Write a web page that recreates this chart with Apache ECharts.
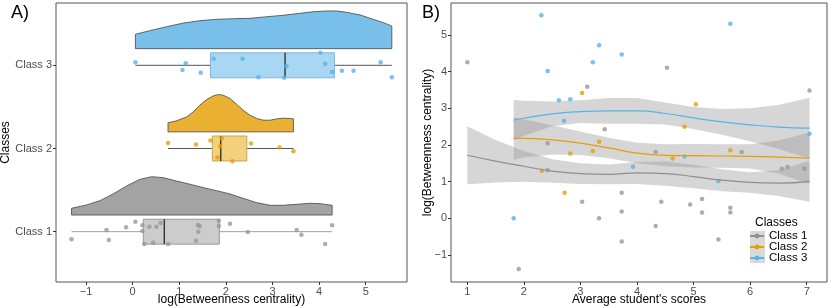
<!DOCTYPE html>
<html><head><meta charset="utf-8">
<script src="https://cdn.jsdelivr.net/npm/echarts@6/dist/echarts.min.js"></script>
<style>html,body{margin:0;padding:0;background:#fff}#main{width:830px;height:308px}</style>
</head><body><div id="main"></div>
<script>
// ---------- DATA ----------
const classNames = ['Class 1', 'Class 2', 'Class 3'];
const leftXTicks = [-1, 0, 1, 2, 3, 4, 5];
const rightXTicks = [1, 2, 3, 4, 5, 6, 7];
const rightYTicks = [-1, 0, 1, 2, 3, 4, 5];

// Panel A: log(betweenness) values with vertical jitter
const c1Vals = [-1.31,-0.56,-0.51,-0.14,0.06,0.21,0.21,0.25,0.36,0.44,0.51,0.60,0.76,1.36,1.40,1.44,1.41,1.85,1.85,2.09,2.47,3.52,3.62,4.13,4.28];
const c1Jit  = [-0.092,0.02,-0.10,0.052,0.12,0.077,0.008,-0.148,0.06,-0.132,0.06,0.105,-0.148,-0.108,0.08,0.065,0,0.132,0.068,0.096,-0.004,0.02,-0.036,-0.148,0.077];
const c2Vals = [0.76,1.36,1.67,1.91,1.88,2.54,3.15,3.45,1.82,2.14];
const c2Jit  = [0.067,0.048,0.096,0.124,0.028,0.06,0.012,-0.032,-0.108,-0.153];
const c3Vals = [0.06,1.14,1.07,1.46,1.74,2.36,2.70,3.25,3.30,4.03,4.13,4.28,4.49,4.74,5.32,5.56];
const c3Jit  = [0.036,0.024,-0.056,-0.089,0.08,0.08,-0.145,-0.15,-0.01,0.15,0.02,-0.08,-0.065,-0.065,0.036,-0.145];

// Box statistics [min, Q1, median, Q3, max]
const box1 = [-1.31, 0.23, 0.68, 1.86, 4.28];
const box2 = [0.76, 1.71, 1.89, 2.45, 3.45];
const box3 = [0.06, 1.67, 3.27, 4.33, 5.56];

// Half-violin densities (x, scaled density height)
const dens1X = [-1.31,-0.99,-0.70,-0.42,-0.13,0.16,0.41,0.66,0.94,1.23,1.52,1.80,2.09,2.37,2.66,2.95,3.23,3.52,3.80,4.02,4.28];
const dens1H = [0.081,0.121,0.173,0.253,0.349,0.43,0.461,0.449,0.409,0.37,0.329,0.293,0.253,0.201,0.149,0.117,0.117,0.129,0.141,0.137,0.117];
const dens2X = [0.76,0.94,1.16,1.30,1.44,1.59,1.73,1.84,1.94,2.09,2.23,2.37,2.52,2.66,2.80,2.95,3.09,3.23,3.38,3.45];
const dens2H = [0.108,0.132,0.18,0.24,0.32,0.389,0.432,0.449,0.441,0.401,0.332,0.26,0.20,0.161,0.14,0.14,0.156,0.164,0.161,0.156];
const dens3X = [0.06,0.37,0.73,1.09,1.44,1.80,2.16,2.52,2.88,3.23,3.59,3.88,4.16,4.38,4.59,4.88,5.16,5.38,5.56];
const dens3H = [0.173,0.216,0.264,0.308,0.336,0.353,0.36,0.365,0.384,0.401,0.425,0.444,0.453,0.453,0.437,0.405,0.353,0.312,0.272];

// Panel B: [average score, log(betweenness)]
const pts1 = [[1.0,4.26],[3.12,3.59],[4.53,4.11],[7.05,3.49],[3.43,2.43],[2.42,2.05],[4.33,1.81],[5.85,1.81],[2.42,1.31],[6.56,1.35],[6.66,1.40],[6.96,1.35],[3.73,0.70],[3.03,0.45],[4.43,0.45],[4.94,0.38],[5.15,0.53],[3.73,0.19],[5.15,0.16],[5.65,0.29],[5.65,0.16],[3.33,0.0],[4.33,-0.21],[5.44,-0.58],[3.73,-0.63],[1.91,-1.38]];
const pts2 = [[3.03,3.42],[5.04,3.11],[4.84,2.50],[2.82,1.77],[3.22,1.84],[3.33,2.09],[4.63,1.63],[5.65,1.86],[2.32,1.30],[2.72,0.70]];
const pts3 = [[2.31,5.54],[2.42,4.02],[2.62,3.22],[2.82,3.25],[3.22,4.26],[3.33,4.72],[3.73,4.47],[5.65,5.31],[2.71,2.66],[4.84,1.69],[7.05,2.31],[3.93,1.41],[5.44,1.02],[1.82,0.0]];

// Loess fits: x grid, fit, half-width of confidence band
const fit1X = [1.0,1.5,2.0,2.5,3.0,3.5,4.0,4.5,5.0,5.5,6.0,6.5,7.05];
const fit1Y = [1.72,1.56,1.42,1.29,1.22,1.20,1.24,1.22,1.14,1.04,0.98,0.96,1.01];
const fit1S = [0.79,0.58,0.42,0.32,0.28,0.27,0.3,0.33,0.32,0.3,0.28,0.35,0.56];
const fit2X = [1.82,2.0,2.5,3.0,3.5,4.0,4.5,5.0,5.5,6.0,6.5,7.05];
const fit2Y = [2.18,2.18,2.14,2.05,1.92,1.78,1.72,1.71,1.70,1.69,1.67,1.64];
const fit2S = [0.58,0.52,0.4,0.32,0.28,0.28,0.3,0.32,0.32,0.33,0.45,0.7];
const fit3X = [1.82,2.0,2.5,3.0,3.5,4.0,4.5,5.0,5.5,6.0,6.5,7.05];
const fit3Y = [2.68,2.73,2.85,2.91,2.93,2.93,2.86,2.74,2.63,2.55,2.49,2.46];
const fit3S = [0.55,0.48,0.34,0.31,0.35,0.35,0.3,0.3,0.35,0.45,0.6,0.83];

// ---------- STYLE ----------
const FONT = '"Liberation Sans", Arial, Helvetica, sans-serif';
const ptColors = ['#999999', '#E69F00', '#56B4E9'];
const densFill = ['#a3a3a3', '#e9b031', '#78c0ea'];
const boxFill = ['#cccccc', '#f2d07e', '#a8d7f3'];
const boxStroke = ['#9a9a9a', '#c9a545', '#7eb6de'];
const whiskColor = ['#a0a0a0', '#555555', '#555555'];
const lineColors = ['#8f8f8f', '#E69F00', '#56B4E9'];
const densBase = 0.2, boxHalf = 0.15;

const boxes = [box1, box2, box3];
const densX = [dens1X, dens2X, dens3X];
const densH = [dens1H, dens2H, dens3H];
const vals = [c1Vals, c2Vals, c3Vals];
const jits = [c1Jit, c2Jit, c3Jit];
const pts = [pts1, pts2, pts3];
const fitX = [fit1X, fit2X, fit3X];
const fitY = [fit1Y, fit2Y, fit3Y];
const fitS = [fit1S, fit2S, fit3S];

const minus = v => String(v).replace('-', '\u2212');
const tickLbl = {color: '#4d4d4d', fontSize: 11, fontFamily: FONT, margin: 4};
const tick = {show: true, length: 3, lineStyle: {color: '#333', width: 1}};

function axis(extra) {
  return Object.assign({
    type: 'value', axisLine: {show: false, onZero: false}, splitLine: {show: false},
    nameLocation: 'middle', nameMoveOverlap: false,
    nameTextStyle: {color: '#000', fontSize: 12, fontFamily: FONT}
  }, extra);
}

const series = [];
// Panel A densities
series.push({
  type: 'custom', xAxisIndex: 0, yAxisIndex: 0, clip: false,
  data: [[2, 1], [2, 2], [2, 3]],
  renderItem: function (params, api) {
    const i = params.dataIndex, pos = i + 1;
    const xs = densX[i], hs = densH[i];
    const points = xs.map((x, k) => api.coord([x, pos + densBase + hs[k]]));
    points.push(api.coord([xs[xs.length - 1], pos + densBase]));
    points.push(api.coord([xs[0], pos + densBase]));
    return {type: 'polygon', shape: {points: points},
      style: {fill: densFill[i], stroke: '#555555', lineWidth: 0.9}};
  }
});
// Panel A boxes
series.push({
  type: 'custom', xAxisIndex: 0, yAxisIndex: 0, clip: false,
  data: [[2, 1], [2, 2], [2, 3]],
  renderItem: function (params, api) {
    const i = params.dataIndex, pos = i + 1, s = boxes[i];
    const c = s.map(v => api.coord([v, pos]));
    const top = api.coord([s[1], pos + boxHalf])[1];
    const bot = api.coord([s[1], pos - boxHalf])[1];
    return {type: 'group', children: [
      {type: 'line', shape: {x1: c[0][0], y1: c[0][1], x2: c[1][0], y2: c[1][1]}, style: {stroke: whiskColor[i], lineWidth: 1}},
      {type: 'line', shape: {x1: c[3][0], y1: c[3][1], x2: c[4][0], y2: c[4][1]}, style: {stroke: whiskColor[i], lineWidth: 1}},
      {type: 'rect', shape: {x: c[1][0], y: top, width: c[3][0] - c[1][0], height: bot - top}, style: {fill: boxFill[i], stroke: boxStroke[i], lineWidth: 1}},
      {type: 'line', shape: {x1: c[2][0], y1: top, x2: c[2][0], y2: bot}, style: {stroke: '#333333', lineWidth: 1.4}}
    ]};
  }
});
// Panel A points
for (let i = 0; i < 3; i++) {
  series.push({
    type: 'scatter', xAxisIndex: 0, yAxisIndex: 0, symbolSize: 4.5,
    itemStyle: {color: ptColors[i]},
    data: vals[i].map((v, k) => [v, i + 1 + jits[i][k]])
  });
}
// Panel B points
for (let i = 0; i < 3; i++) {
  series.push({
    type: 'scatter', xAxisIndex: 1, yAxisIndex: 1, symbolSize: 4.5,
    itemStyle: {color: ptColors[i]}, data: pts[i]
  });
}
// Panel B confidence bands
series.push({
  type: 'custom', xAxisIndex: 1, yAxisIndex: 1,
  data: [[4, 1], [4, 2], [4, 3]],
  renderItem: function (params, api) {
    const i = params.dataIndex;
    const xs = fitX[i], ys = fitY[i], ss = fitS[i];
    const up = xs.map((x, k) => api.coord([x, ys[k] + ss[k]]));
    const lo = xs.map((x, k) => api.coord([x, ys[k] - ss[k]])).reverse();
    return {type: 'polygon', shape: {points: up.concat(lo)},
      style: {fill: 'rgba(153,153,153,0.4)'}};
  }
});
// Panel B loess lines
for (let i = 0; i < 3; i++) {
  series.push({
    name: classNames[i], type: 'line', xAxisIndex: 1, yAxisIndex: 1, z: 4,
    smooth: true, showSymbol: false, symbol: 'circle', symbolSize: 4,
    itemStyle: {color: lineColors[i]}, lineStyle: {color: lineColors[i], width: 1.2},
    data: fitX[i].map((x, k) => [x, fitY[i][k]])
  });
}

const legends = classNames.map((name, i) => ({
  data: [name], orient: 'vertical', left: 749, top: 230 + 11 * i, padding: 0,
  itemWidth: 14, itemHeight: 6, selectedMode: false,
  textStyle: {color: '#000', fontSize: 11.5, fontFamily: FONT}
}));

const option = {
  animation: false,
  backgroundColor: '#fff',
  textStyle: {fontFamily: FONT},
  grid: [
    {left: 56, right: 423, top: 3, bottom: 26, outerBoundsMode: 'none', containLabel: false, show: true, borderColor: '#555', borderWidth: 1, backgroundColor: 'transparent'},
    {left: 451, right: 3, top: 3, bottom: 26, outerBoundsMode: 'none', containLabel: false, show: true, borderColor: '#555', borderWidth: 1, backgroundColor: 'transparent'}
  ],
  xAxis: [
    axis({gridIndex: 0, min: -1.6435, max: 5.886, name: 'log(Betweenness centrality)', nameGap: 12,
      axisTick: Object.assign({customValues: leftXTicks}, tick),
      axisLabel: Object.assign({customValues: leftXTicks, formatter: minus}, tickLbl)}),
    axis({gridIndex: 1, min: 0.712, max: 7.359, name: "Average student's scores", nameGap: 12,
      axisTick: Object.assign({customValues: rightXTicks}, tick),
      axisLabel: Object.assign({customValues: rightXTicks, formatter: minus}, tickLbl)})
  ],
  yAxis: [
    axis({gridIndex: 0, min: 0.395, max: 3.749, name: 'Classes', nameGap: 44,
      axisTick: Object.assign({customValues: [1, 2, 3]}, tick),
      axisLabel: Object.assign({customValues: [1, 2, 3], formatter: v => classNames[Math.round(v) - 1]}, tickLbl)}),
    axis({gridIndex: 1, min: -1.736, max: 5.873, name: 'log(Betweenness centrality)', nameGap: 17,
      axisTick: Object.assign({customValues: rightYTicks}, tick),
      axisLabel: Object.assign({customValues: rightYTicks, formatter: minus}, tickLbl)})
  ],
  legend: legends,
  graphic: [
    {type: 'rect', z: -1, shape: {x: 750, y: 231, width: 15, height: 32}, style: {fill: '#d9d9d9'}},
    {type: 'text', left: 755, top: 217, style: {text: 'Classes', fontSize: 12, fontFamily: FONT, fill: '#000'}},
    {type: 'text', left: 11, top: 4, style: {text: 'A)', fontSize: 18, fontFamily: FONT, fill: '#000'}},
    {type: 'text', left: 422, top: 4, style: {text: 'B)', fontSize: 18, fontFamily: FONT, fill: '#000'}}
  ],
  series: series
};
const chart = echarts.init(document.getElementById('main'));
chart.setOption(option);
</script></body></html>
